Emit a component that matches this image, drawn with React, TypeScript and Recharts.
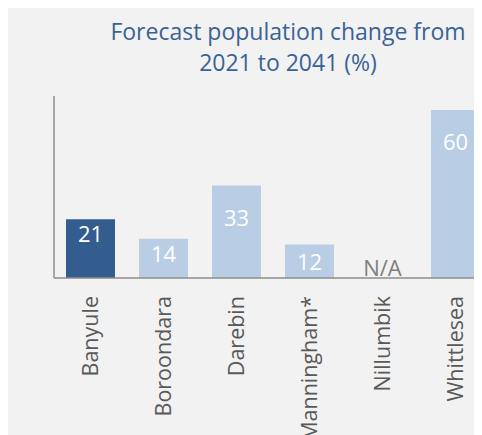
import { Bar, BarChart, Cell, LabelList, ReferenceDot, XAxis, YAxis } from "recharts";

// Forecast population change 2021 -> 2041 (%), by council
const councils = ["Banyule", "Boroondara", "Darebin", "Manningham*", "Nillumbik", "Whittlesea"];
const change: (number | null)[] = [21, 14, 33, 12, null, 60];
const highlight = "Banyule";
const missingText = "N/A";

const DARK = "#335d8f";
const LIGHT = "#b9cde5";
const AXIS = "#8c8c8c";
const FONT = "'Open Sans', 'Noto Sans', sans-serif";

const data = councils.map((name, i) => ({ name, value: change[i] }));

function RotatedTick({ x, y, payload }: any) {
  return (
    <g transform={`translate(${x},${y})`}>
      <text
        transform="rotate(-90)"
        x={0}
        y={0}
        dy="0.36em"
        textAnchor="end"
        fill="#595959"
        fontSize={21.5}
        fontFamily={FONT}
      >
        {payload.value}
      </text>
    </g>
  );
}

// labels sit near the top of tall bars, roughly centred in short ones
function ValueLabel({ x, y, width, height, value }: any) {
  if (value == null) return null;
  const h = Number(height);
  const off = h >= 80 ? 31 : h >= 38 ? 14 : h / 2;
  return (
    <text
      x={Number(x) + Number(width) / 2}
      y={Number(y) + off}
      textAnchor="middle"
      dominantBaseline="central"
      fill="#ffffff"
      fontSize={22}
      fontFamily={FONT}
    >
      {value}
    </text>
  );
}

export default function App() {
  return (
    <div
      style={{
        position: "relative",
        width: 474,
        height: 428,
        marginTop: -1,
        background: "#f2f2f2",
        overflow: "hidden",
        fontFamily: FONT,
      }}
    >
      <div
        style={{
          position: "absolute",
          left: 60,
          top: 9,
          width: 440,
          textAlign: "center",
          color: "#3a6396",
          fontSize: 23,
          lineHeight: "31px",
        }}
      >
        Forecast population change from
        <br />
        2021 to 2041 (%)
      </div>
      <BarChart
        width={500}
        height={428}
        data={data}
        margin={{ top: 89, right: 16, left: 36, bottom: 0 }}
        style={{ position: "absolute", left: 0, top: 0 }}
      >
        <YAxis
          width={10}
          domain={[0, 65]}
          tick={false}
          tickLine={false}
          axisLine={{ stroke: AXIS, strokeWidth: 1.5 }}
        />
        <XAxis
          dataKey="name"
          height={157}
          interval={0}
          tickLine={false}
          tickSize={0}
          tickMargin={18}
          axisLine={{ stroke: AXIS, strokeWidth: 1.5 }}
          tick={<RotatedTick />}
        />
        <Bar dataKey="value" barSize={49} isAnimationActive={false}>
          {data.map((d) => (
            <Cell key={d.name} fill={d.name === highlight ? DARK : LIGHT} />
          ))}
          <LabelList dataKey="value" content={<ValueLabel />} />
        </Bar>
        {data
          .filter((d) => d.value == null)
          .map((d) => (
            <ReferenceDot
              key={d.name}
              x={d.name}
              y={0}
              r={0}
              fill="none"
              stroke="none"
              ifOverflow="visible"
              label={{
                value: missingText,
                position: "top",
                offset: 2,
                fill: "#7f7f7f",
                fontSize: 22,
                fontFamily: FONT,
              }}
            />
          ))}
      </BarChart>
    </div>
  );
}
